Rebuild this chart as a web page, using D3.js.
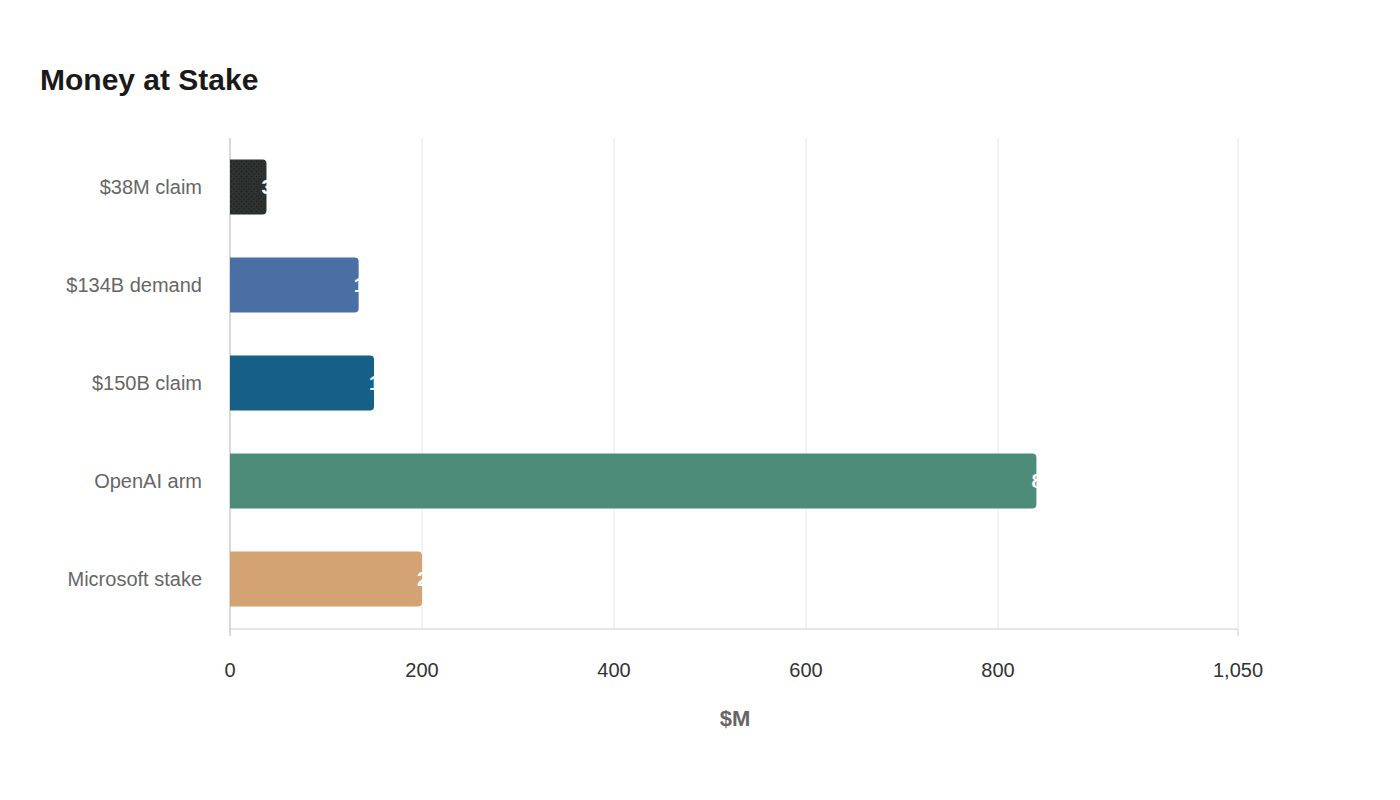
<!DOCTYPE html><html><head><meta charset="utf-8"><script src="https://cdn.jsdelivr.net/npm/d3@7"></script>
<style>body{margin:0;background:#fff;font-family:"Liberation Sans",Arial,sans-serif}</style></head><body><svg id="c" width="1400" height="800"></svg>
<script>
const categories=["$38M claim","$134B demand","$150B claim","OpenAI arm","Microsoft stake"];
const values=[38,134,150,840,200];
const colors=["#2e3331","#4a6fa5","#166088","#4e8c7a","#d4a373"];
const ticks=[0,200,400,600,800,1050];
const svg=d3.select("#c");
const defs=svg.append("defs");
const p=defs.append("pattern").attr("id","dots").attr("width",5).attr("height",5).attr("patternUnits","userSpaceOnUse");
p.append("rect").attr("width",5).attr("height",5).attr("fill","#2e3331");
p.append("circle").attr("cx",1.5).attr("cy",1.5).attr("r",0.7).attr("fill","#1a1d1c");
p.append("circle").attr("cx",4).attr("cy",4).attr("r",0.7).attr("fill","#1a1d1c");
svg.append("text").attr("x",40).attr("y",90).text("Money at Stake").attr("font-size",30).attr("font-weight","bold").attr("fill","#1a1a1a");
const x=d3.scaleLinear().domain([0,1050]).range([230,1238]);
const y=d3.scaleBand().domain(categories).range([138,628]).paddingInner(0.44).paddingOuter(0.22);
const g=svg.append("g");
ticks.forEach(t=>{ if(t>0) g.append("line").attr("x1",x(t)).attr("x2",x(t)).attr("y1",138).attr("y2",628).attr("stroke","#e6e6e6");
 g.append("text").attr("x",x(t)).attr("y",677).attr("text-anchor","middle").attr("font-size",20).attr("fill","#333").text(d3.format(",")(t));});
g.append("line").attr("x1",230).attr("x2",1238).attr("y1",629).attr("y2",629).attr("stroke","#ccc");
g.append("line").attr("x1",1238).attr("x2",1238).attr("y1",629).attr("y2",636).attr("stroke","#ccc");
g.append("line").attr("x1",230).attr("x2",230).attr("y1",138).attr("y2",636).attr("stroke","#ccc").attr("stroke-width",1.5);
categories.forEach((c,i)=>{
 const x0=x(0),x1=x(values[i]),y0=y(c),h=y.bandwidth(),r=4;
 const path=`M${x0},${y0}H${x1-r}Q${x1},${y0} ${x1},${y0+r}V${y0+h-r}Q${x1},${y0+h} ${x1-r},${y0+h}H${x0}Z`;
 g.append("path").attr("d",path).attr("fill",i==0?"url(#dots)":colors[i]);
 g.append("text").attr("x",x1-5).attr("y",y0+h/2+7).attr("font-size",20).attr("font-weight","bold").attr("fill","#fff").text(values[i]);
 g.append("text").attr("x",202).attr("y",y0+h/2+7).attr("text-anchor","end").attr("font-size",20).attr("fill","#666").text(c);
});
svg.append("text").attr("x",735).attr("y",726).attr("text-anchor","middle").attr("font-size",22).attr("font-weight","bold").attr("fill","#666").text("$M");
</script></body></html>
